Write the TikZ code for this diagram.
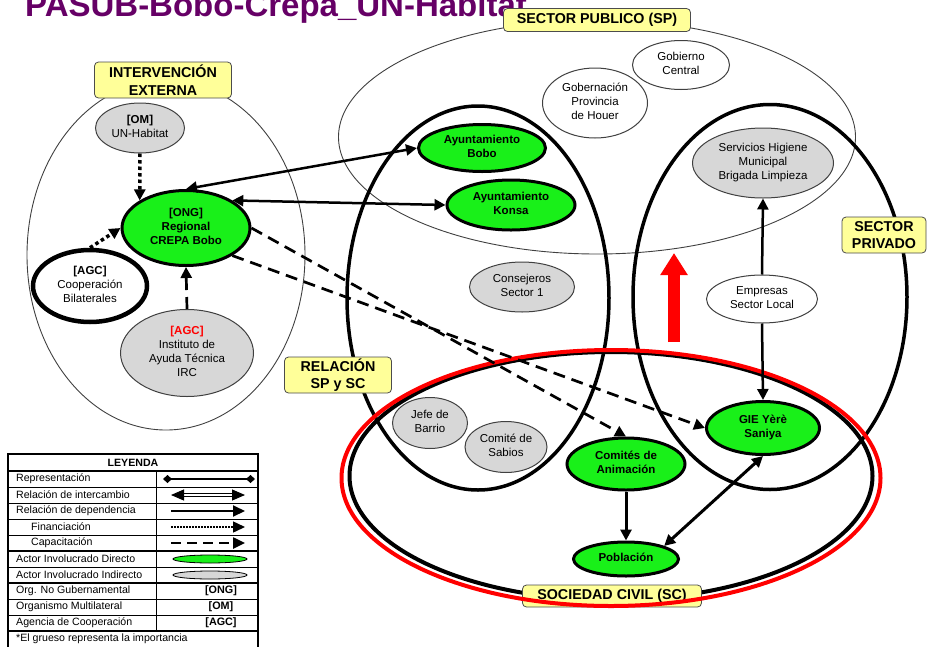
\documentclass[tikz,border=0pt]{standalone}
\usepackage{fontspec}
\setmainfont{Liberation Sans}
\usetikzlibrary{positioning,arrows.meta,shapes.geometric}
\definecolor{verde}{RGB}{25,240,25}
\definecolor{gris}{RGB}{215,215,215}
\definecolor{amarillo}{RGB}{255,255,153}
\definecolor{morado}{RGB}{102,0,102}
\newcommand{\lbl}[1]{\makebox[0pt]{\begin{tabular}{@{}c@{}}#1\end{tabular}}}
\tikzset{
  grupo/.style={ellipse,draw=black,line width=3.5pt,inner sep=0pt},
  grupofino/.style={ellipse,draw=black!75,line width=0.9pt,inner sep=0pt},
  rotulo/.style={rectangle,draw=black!70,fill=amarillo,rounded corners=4pt,line width=0.8pt,
    inner sep=0pt,align=center,font=\fontsize{14.3}{17.5}\selectfont\bfseries},
  directo/.style={ellipse,draw=black,fill=verde,line width=3pt,inner sep=0pt,
    font=\fontsize{11.5}{14}\selectfont\bfseries},
  indirecto/.style={ellipse,draw=black!75,fill=gris,line width=1pt,inner sep=0pt,
    font=\fontsize{11.5}{14}\selectfont},
  neutro/.style={ellipse,draw=black!75,fill=white,line width=1pt,inner sep=0pt,
    font=\fontsize{11.5}{14}\selectfont},
  dep/.style={-{Triangle[length=11pt,width=11pt]},line width=2.5pt},
  interc/.style={{Triangle[length=11pt,width=11pt]}-{Triangle[length=11pt,width=11pt]},line width=2.5pt},
  finan/.style={dep,line width=3.5pt,dash pattern=on 3.5pt off 3pt},
  capac/.style={dep,line width=2.7pt,dash pattern=on 12pt off 7pt},
  subida/.style={draw=red,line width=12pt,-{Triangle[length=22pt,width=26pt]}},
  leyenda/.style={anchor=west,inner sep=0pt,font=\fontsize{10.6}{12}\selectfont},
  lrep/.style={{Diamond[length=9pt,width=8pt]}-{Diamond[length=9pt,width=8pt]},line width=1.6pt},
  linterc/.style={{Triangle[length=13pt,width=11pt]}-{Triangle[length=13pt,width=11pt]},
    line width=1pt,double,double distance=2pt},
  ldep/.style={-{Triangle[length=12pt,width=11pt]},line width=2pt},
  lfinan/.style={ldep,line width=1.5pt,dash pattern=on 1.5pt off 1.5pt},
  lcapac/.style={ldep,line width=2.5pt,dash pattern=on 10pt off 6pt},
}
\begin{document}
\begin{tikzpicture}[x=1pt,y=-1pt]
  \useasboundingbox (0,0) rectangle (927,646);
  \node[anchor=base west,text=morado,inner sep=0pt,font=\fontsize{33}{36}\selectfont\bfseries]
    (titulo) at (25,16) {PASUB-Bobo-Crepa\_UN-Habitat};

  % grandes grupos
  \node[grupofino,minimum width=278pt,minimum height=350pt] (ext) at (166,255) {};
  \node[grupofino,minimum width=517pt,minimum height=234pt] (sp) at (597,137) {};
  \node[grupo,minimum width=262pt,minimum height=384pt] (rel) at (478,298) {};
  \node[grupo,minimum width=274pt,minimum height=385pt] (priv) at (770,297) {};
  \node[grupo,line width=4pt,minimum width=523pt,minimum height=248pt] (scn) at (611,476) {};

  % rotulos
  \node[rotulo,minimum width=137pt,minimum height=36pt] (tExt) at (163,80) {INTERVENCIÓN\\EXTERNA};
  \node[rotulo,minimum width=187pt,minimum height=23pt] (tSP) at (597,20) {SECTOR PUBLICO (SP)};
  \node[rotulo,minimum width=107pt,minimum height=36pt] (tRel) at (338,375) {RELACIÓN\\SP y SC};
  \node[rotulo,minimum width=84pt,minimum height=36pt] (tPriv) at (884,235) {SECTOR\\PRIVADO};
  \node[rotulo,minimum width=179pt,minimum height=22pt] (tSC) at (612,596) {SOCIEDAD CIVIL (SC)};
  \node[grupo,draw=red,line width=4pt,minimum width=539pt,minimum height=256pt] (scr) at (611,478) {};

  % actores
  \node[indirecto,minimum width=89pt,minimum height=50pt] (om) at (140,128) {\lbl{\textbf{[OM]}\\UN-Habitat}};
  \node[directo,minimum width=128pt,minimum height=75pt] (ong) at (186,228) {\lbl{[ONG]\\Regional\\CREPA Bobo}};
  \node[neutro,draw=black,line width=4.5pt,minimum width=114pt,minimum height=72pt] (coop) at (90,286)
    {\lbl{\textbf{[AGC]}\\Cooperación\\Bilaterales}};
  \node[indirecto,minimum width=133pt,minimum height=87pt] (irc) at (187,353)
    {\lbl{\textcolor{red}{\bfseries [AGC]}\\Instituto de\\Ayuda Técnica\\IRC}};
  \node[neutro,minimum width=97pt,minimum height=49pt] (gob) at (681,65) {\lbl{Gobierno\\Central}};
  \node[neutro,minimum width=105pt,minimum height=70pt] (prov) at (595,103) {\lbl{Gobernación\\Provincia\\de Houer}};
  \node[directo,minimum width=127pt,minimum height=47pt] (ab) at (482,148) {\lbl{Ayuntamiento\\Bobo}};
  \node[directo,minimum width=128pt,minimum height=50pt] (ak) at (511,205) {\lbl{Ayuntamiento\\Konsa}};
  \node[indirecto,minimum width=105pt,minimum height=50pt] (cons) at (522,287) {\lbl{Consejeros\\Sector 1}};
  \node[indirecto,minimum width=141pt,minimum height=70pt] (serv) at (763,163)
    {\lbl{Servicios Higiene\\Municipal\\Brigada Limpieza}};
  \node[neutro,minimum width=111pt,minimum height=48pt] (emp) at (762,299) {\lbl{Empresas\\Sector Local}};
  \node[indirecto,minimum width=75pt,minimum height=51pt] (jefe) at (430,423) {\lbl{Jefe de\\Barrio}};
  \node[indirecto,minimum width=82pt,minimum height=51pt] (sab) at (506,447) {\lbl{Comité de\\Sabios}};
  \node[directo,minimum width=118pt,minimum height=52pt] (anim) at (626,464) {\lbl{Comités de\\Animación}};
  \node[directo,minimum width=105pt,minimum height=34pt] (pob) at (626,559) {\lbl{Población}};
  \node[directo,minimum width=113pt,minimum height=53pt] (gie) at (763,428) {\lbl{GIE Yèrè\\Saniya}};

  % relaciones
  \draw[finan] (om.south) -- (ong.north west);
  \draw[finan] (coop.north) -- (ong.west);
  \draw[capac] (irc.north) -- (ong.south);
  \draw[interc] (ong.north) -- (ab.west);
  \draw[interc] (ong.north east) -- (ak.west);
  \draw[capac] (ong.east) -- (anim.north);
  \draw[capac] (ong.south east) -- (gie.west);
  \draw[dep] (emp.north) -- (serv.south);
  \draw[dep] (emp.south) -- (gie.north);
  \draw[dep,line width=3pt] (anim.south) -- (pob.north);
  \draw[interc,line width=3pt] (gie.south) -- (pob.north east);

  % flecha roja
  \coordinate (flechaA) at (674,342);
  \coordinate (flechaB) at (674,253);
  \draw[subida] (flechaA) -- (flechaB);

  % leyenda
  \draw[line width=1.8pt] (8,454) rectangle (258,652);
  \draw[line width=1.8pt] (8,471) -- (258,471) (8,551) -- (258,551) (8,583) -- (258,583) (8,631) -- (258,631);
  \draw[line width=0.8pt] (8,487) -- (258,487) (8,503) -- (258,503) (8,519) -- (258,519)
    (8,535) -- (258,535) (8,567) -- (258,567) (8,599) -- (258,599) (8,615) -- (258,615)
    (156,471) -- (156,631);
  \node[font=\fontsize{10.6}{12}\selectfont\bfseries] (ley) at (133,462.5) {LEYENDA};
  \node[leyenda] (l1) at (16,479) {Representación};
  \node[leyenda] (l2) at (16,495) {Relación de intercambio};
  \node[leyenda] (l3) at (16,511) {Relación de dependencia};
  \node[leyenda] (l4) at (31,527) {Financiación};
  \node[leyenda] (l5) at (31,543) {Capacitación};
  \node[leyenda] (l6) at (16,559) {Actor Involucrado Directo};
  \node[leyenda] (l7) at (16,575) {Actor Involucrado Indirecto};
  \node[leyenda] (l8) at (16,591) {Org. No Gubernamental};
  \node[leyenda] (l9) at (16,607) {Organismo Multilateral};
  \node[leyenda] (l10) at (16,623) {Agencia de Cooperación};
  \node[leyenda] (l11) at (16,639) {*El grueso representa la importancia};
  \coordinate (s1) at (209,479);
  \coordinate (s2) at (208,495);
  \coordinate (s3) at (208,511);
  \coordinate (s4) at (208,527);
  \coordinate (s5) at (208,543);
  \draw[lrep] ([xshift=-46pt]s1) -- ([xshift=46pt]s1);
  \draw[linterc] ([xshift=-37pt]s2) -- ([xshift=37pt]s2);
  \draw[ldep] ([xshift=-37pt]s3) -- ([xshift=37pt]s3);
  \draw[lfinan] ([xshift=-37pt]s4) -- ([xshift=37pt]s4);
  \draw[lcapac] ([xshift=-37pt]s5) -- ([xshift=37pt]s5);
  \node[ellipse,draw,fill=verde,line width=0.8pt,minimum width=74pt,minimum height=8pt,inner sep=0pt] (ldir) at (210,559) {};
  \node[ellipse,draw,fill=gris,line width=0.8pt,minimum width=74pt,minimum height=8pt,inner sep=0pt] (lind) at (210,575) {};
  \node[font=\fontsize{10.8}{12}\selectfont\bfseries] (long) at (221,591) {[ONG]};
  \node[font=\fontsize{10.8}{12}\selectfont\bfseries] (lom) at (221,607) {[OM]};
  \node[font=\fontsize{10.8}{12}\selectfont\bfseries] (lagc) at (221,623) {[AGC]};
\end{tikzpicture}
\end{document}
